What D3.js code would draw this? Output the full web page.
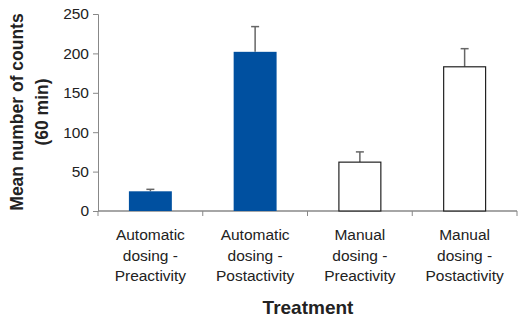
<html>
<head>
<script src="https://d3js.org/d3.v7.min.js"></script>
<style>
body { margin: 0; background: white; }
text { font-family: Arial, "Liberation Sans", sans-serif; fill: #222; }
</style>
</head>
<body>
<svg id="chart" width="518" height="317"></svg>
<script>

// data
const categories = [
  ["Automatic", "dosing -", "Preactivity"],
  ["Automatic", "dosing -", "Postactivity"],
  ["Manual", "dosing -", "Preactivity"],
  ["Manual", "dosing -", "Postactivity"]
];
const means = [25, 202, 62, 183];
const errors = [2.5, 32, 13, 23];
const filled = [true, true, false, false];
const yTicks = [0, 50, 100, 150, 200, 250];

const svg = d3.select("svg#chart");
const margin = {top: 14, left: 98, right: 1, bottom: 106};
const width = 518, height = 317;
const chartWidth = width - margin.left - margin.right;
const chartHeight = height - margin.top - margin.bottom;

const chart = svg.append("g").attr("transform", `translate(${margin.left},${margin.top})`);

const yScale = d3.scaleLinear().domain([0, 250]).range([chartHeight, 0]);
const xScale = d3.scaleBand().domain(d3.range(categories.length)).range([0, chartWidth])
                 .paddingInner(0.59).paddingOuter(0.295);

// y axis
const leftAxis = d3.axisLeft(yScale).tickValues(yTicks).tickSize(5).tickPadding(4);
const yAxis = chart.append("g").call(leftAxis);
yAxis.select(".domain").attr("stroke", "#888");
yAxis.selectAll(".tick line").attr("stroke", "#888");
yAxis.selectAll(".tick text").attr("font-size", "15.5px").attr("fill", "#222");

// x axis, ticks between categories
const xEdges = d3.range(categories.length + 1).map(i => i * chartWidth / categories.length);
chart.append("line").attr("x1", 0).attr("x2", chartWidth)
     .attr("y1", chartHeight).attr("y2", chartHeight).attr("stroke", "#888").attr("stroke-width", 1.5);
chart.selectAll("line.xtick").data(xEdges).enter().append("line").attr("class", "xtick")
     .attr("x1", d => d).attr("x2", d => d)
     .attr("y1", chartHeight).attr("y2", chartHeight + 5).attr("stroke", "#888");

// error bars (upward only)
const bw = xScale.bandwidth();
means.forEach((m, i) => {
  const cx = xScale(i) + bw / 2;
  chart.append("line").attr("x1", cx).attr("x2", cx)
       .attr("y1", yScale(m)).attr("y2", yScale(m + errors[i]))
       .attr("stroke", "#666").attr("stroke-width", 1.5);
  chart.append("line").attr("x1", cx - 4).attr("x2", cx + 4)
       .attr("y1", yScale(m + errors[i])).attr("y2", yScale(m + errors[i]))
       .attr("stroke", "#666").attr("stroke-width", 1.5);
});

// bars
chart.selectAll("rect.bar").data(means).enter().append("rect").attr("class", "bar")
     .attr("x", (d, i) => xScale(i) + (filled[i] ? 0 : 0.5))
     .attr("y", d => yScale(d))
     .attr("width", (d, i) => bw - (filled[i] ? 0 : 1))
     .attr("height", d => yScale(0) - yScale(d))
     .attr("fill", (d, i) => filled[i] ? "#0050a0" : "white")
     .attr("stroke", (d, i) => filled[i] ? "none" : "#222")
     .attr("stroke-width", 1.2);

// category labels
categories.forEach((lines, i) => {
  const t = chart.append("text").attr("text-anchor", "middle")
                 .attr("x", xScale(i) + bw / 2).attr("y", chartHeight + 29)
                 .attr("font-size", "15.5px");
  lines.forEach((s, j) => t.append("tspan").attr("x", xScale(i) + bw / 2)
                           .attr("dy", j === 0 ? 0 : 20.5).text(s));
});

// axis titles
svg.append("text").attr("text-anchor", "middle").attr("x", 308).attr("y", 314)
   .attr("font-size", "19px").attr("font-weight", "bold").text("Treatment");

const yl = svg.append("text").attr("text-anchor", "middle")
   .attr("transform", "translate(0,112) rotate(-90)")
   .attr("font-size", "17.5px").attr("font-weight", "bold");
yl.append("tspan").attr("x", 0).attr("y", 23).text("Mean number of counts");
yl.append("tspan").attr("x", 0).attr("y", 48).text("(60 min)");

</script>
</body>
</html>
